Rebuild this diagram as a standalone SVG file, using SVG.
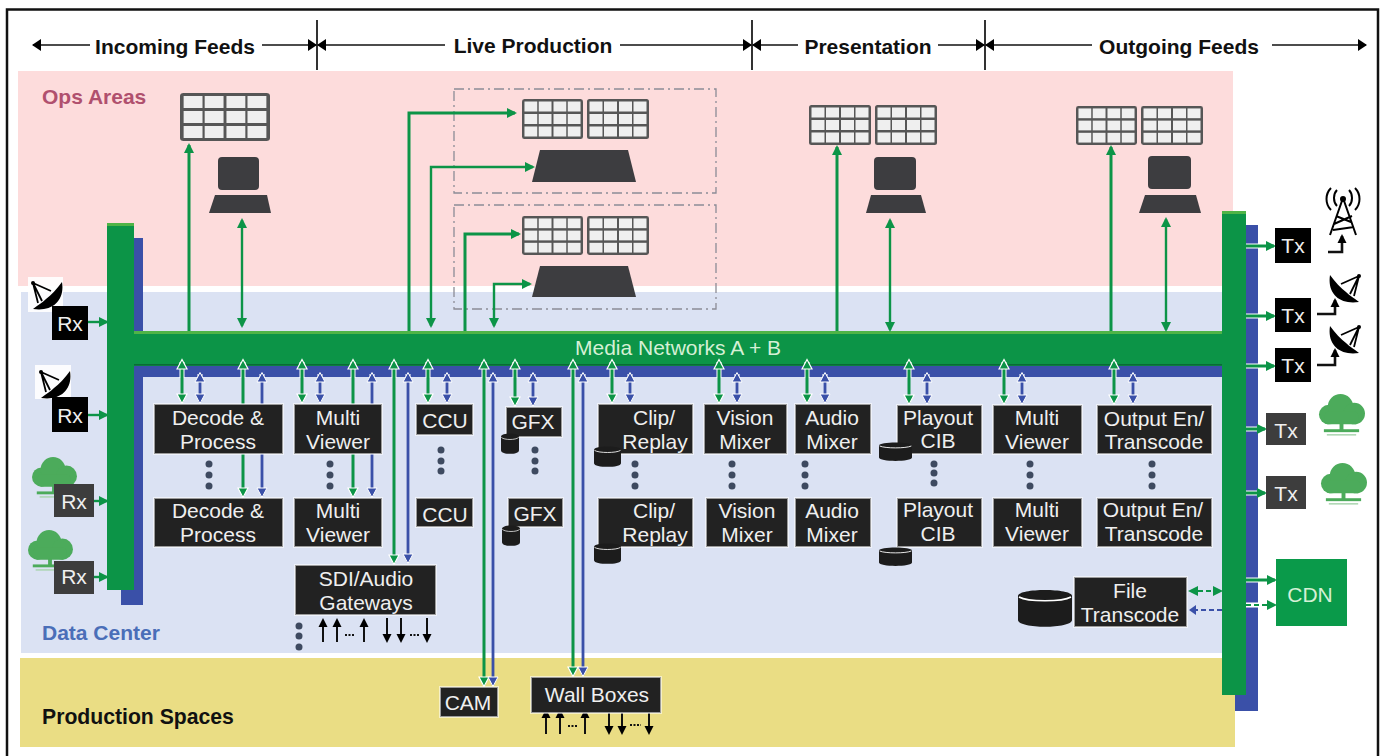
<svg xmlns="http://www.w3.org/2000/svg" width="1386" height="756" viewBox="0 0 1386 756">
<style>
text{font-family:"Liberation Sans",Arial,sans-serif}
.hd{font-size:21px;font-weight:bold;fill:#111;text-anchor:middle}
.n{font-size:21px;fill:#efefef;text-anchor:middle}
.box{fill:#222;stroke:#fff;stroke-opacity:.55;stroke-width:2}
.blk{fill:#000}
.gry{fill:#3d3d3d}
.hl{fill:none;stroke:#111;stroke-width:1.6;marker-end:url(#hk)}
.dv{stroke:#000;stroke-width:1.6}
.g3{fill:none;stroke:#0c9447;stroke-width:3;marker-end:url(#gh)}
.g2{fill:none;stroke:#0c9447;stroke-width:2.4;marker-start:url(#gh);marker-end:url(#gh)}
.g1{fill:none;stroke:#0c9447;stroke-width:2.4;marker-end:url(#gh)}
.gb{fill:none;stroke:#0c9447;stroke-width:3;marker-start:url(#ghb);marker-end:url(#ghb)}
.bb{fill:none;stroke:#3a50a8;stroke-width:2.8;marker-start:url(#bhb);marker-end:url(#bhb)}
.gd{fill:none;stroke:#0c9447;stroke-width:2;stroke-dasharray:5 3}
.bd{fill:none;stroke:#3a50a8;stroke-width:2;stroke-dasharray:5 3}
.halo{fill:none;stroke:#fff;stroke-width:5}
.io{fill:none;stroke:#111;stroke-width:2;marker-end:url(#kh)}
.dash{fill:none;stroke:#111;stroke-width:2;stroke-dasharray:2 1.5}
.el{fill:none;stroke:#111;stroke-width:2.6;marker-end:url(#kh)}
.dot{fill:#3e4a60}
.dsh{fill:none;stroke:#8c8c96;stroke-width:1.3;stroke-dasharray:10 4 2 4}
.tr{fill:#3d3d40}
</style>
<defs>
<marker id="hk" markerUnits="userSpaceOnUse" markerWidth="10" markerHeight="14" refX="8" refY="7" orient="auto-start-reverse"><path d="M0 1L9 7L0 13Z" fill="#000"/></marker>
<marker id="kh" markerUnits="userSpaceOnUse" markerWidth="10" markerHeight="10" refX="7" refY="5" orient="auto-start-reverse"><path d="M0 .5L9 5L0 9.5Z" fill="#000"/></marker>
<marker id="gh" markerUnits="userSpaceOnUse" markerWidth="12" markerHeight="12" refX="8" refY="6" orient="auto-start-reverse"><path d="M0 1L10 6L0 11Z" fill="#0c9447"/></marker>
<marker id="ghb" markerUnits="userSpaceOnUse" markerWidth="14" markerHeight="16" refX="9" refY="8" orient="auto-start-reverse"><path d="M1 3L10.5 8L1 13Z" fill="#0c9447" stroke="#fff" stroke-width="1.2"/></marker>
<marker id="bhb" markerUnits="userSpaceOnUse" markerWidth="14" markerHeight="16" refX="9" refY="8" orient="auto-start-reverse"><path d="M1 3L10.5 8L1 13Z" fill="#3a50a8" stroke="#fff" stroke-width="1"/></marker>
<symbol id="grid" viewBox="0 0 62 40" preserveAspectRatio="none">
<rect width="62" height="40" rx="2.5" fill="#565656"/>
<g fill="#efefef"><rect x="2.5" y="2.5" width="13" height="10"/><rect x="17" y="2.5" width="13" height="10"/><rect x="32" y="2.5" width="13" height="10"/><rect x="46.5" y="2.5" width="13" height="10"/>
<rect x="2.5" y="15" width="13" height="10"/><rect x="17" y="15" width="13" height="10"/><rect x="32" y="15" width="13" height="10"/><rect x="46.5" y="15" width="13" height="10"/>
<rect x="2.5" y="27.5" width="13" height="10"/><rect x="17" y="27.5" width="13" height="10"/><rect x="32" y="27.5" width="13" height="10"/><rect x="46.5" y="27.5" width="13" height="10"/></g>
</symbol>
<symbol id="cyl" viewBox="0 0 54 38" preserveAspectRatio="none">
<path d="M0 7C0 -1 54 -1 54 7V31C54 40 0 40 0 31Z" fill="#1c1c1c"/>
<path d="M1 8C10 13 44 13 53 8" fill="none" stroke="#fff" stroke-width="1.6"/>
</symbol>
<symbol id="dish" viewBox="0 0 36 36">
<path d="M34 5C37 24 24 35 5 32C10 28 14 26 18 22C23 18 29 12 34 5Z" fill="#000"/>
<path d="M5 6L23 14M5 6L14 24M5 6L10 26" fill="none" stroke="#000" stroke-width="1.8"/>
<circle cx="5" cy="6" r="2" fill="#000"/>
</symbol>
<symbol id="cloud" viewBox="0 0 50 46">
<g fill="#4cab5b"><circle cx="12" cy="21" r="10"/><circle cx="24" cy="13" r="13"/><circle cx="38" cy="20" r="11"/><rect x="8" y="18" width="34" height="13" rx="4"/><rect x="23" y="30" width="4" height="8"/><rect x="7" y="36" width="36" height="3"/></g>
<rect x="10" y="41" width="30" height="1.5" fill="#a8d4ae"/>
</symbol>
</defs>
<rect width="1386" height="756" fill="#fff"/>
<g id="bands">
<rect x="18" y="71" width="1215" height="215" fill="#fddcdc"/>
<rect x="21" y="292" width="1205" height="361" fill="#dbe2f3"/>
<rect x="20" y="658" width="1215" height="89" fill="#eadd84"/>
</g>
<path id="frame" d="M7 756V9.5H1378V756" fill="none" stroke="#111" stroke-width="2.5"/>
<g id="headers">
<path class="dv" d="M317 20V70M752 20V70M985 20V70"/>
<path class="hl" d="M90 45H33"/><path class="hl" d="M262 45H316"/>
<path class="hl" d="M445 45H318"/><path class="hl" d="M620 45H751"/>
<path class="hl" d="M798 45H753"/><path class="hl" d="M938 45H984"/>
<path class="hl" d="M1092 45H986"/><path class="hl" d="M1272 45H1366"/>
<text class="hd" x="175" y="54">Incoming Feeds</text>
<text class="hd" x="533" y="53">Live Production</text>
<text class="hd" x="868" y="54">Presentation</text>
<text class="hd" x="1179" y="54">Outgoing Feeds</text>
</g>
<text x="42" y="104" font-size="21" font-weight="bold" fill="#b0506e">Ops Areas</text>
<text x="42" y="640" font-size="21" font-weight="bold" fill="#4a6eb8">Data Center</text>
<text x="42" y="724" font-size="21.2" font-weight="bold" fill="#111">Production Spaces</text>
<g id="live-boxes"><rect class="dsh" x="454" y="89" width="262" height="104"/><rect class="dsh" x="454" y="205" width="262" height="104"/></g>
<g id="ops-equipment">
<use href="#grid" x="180" y="93" width="90" height="48"/>
<g class="tr"><rect x="218" y="157" width="41" height="33" rx="4"/><path d="M215 195H267L271 213H209Z"/></g>
<use href="#grid" x="522" y="99" width="61" height="40"/><use href="#grid" x="587" y="99" width="62" height="40"/>
<path class="tr" d="M540 150H628L636 182H532Z"/>
<use href="#grid" x="522" y="216" width="61" height="39"/><use href="#grid" x="587" y="216" width="62" height="39"/>
<path class="tr" d="M540 266H628L636 297H532Z"/>
<use href="#grid" x="809" y="105" width="62" height="40"/><use href="#grid" x="875" y="105" width="62" height="40"/>
<g class="tr"><rect x="874" y="157" width="42" height="33" rx="4"/><path d="M871 195H921L926 213H866Z"/></g>
<use href="#grid" x="1076" y="106" width="61" height="39"/><use href="#grid" x="1141" y="106" width="62" height="39"/>
<g class="tr"><rect x="1148" y="156" width="43" height="33" rx="4"/><path d="M1145 195H1196L1201 213H1139Z"/></g>
</g>
<g id="buses">
<rect x="121" y="238" width="22" height="367" fill="#3a50a8"/>
<rect x="1235" y="225" width="23" height="486" fill="#3a50a8"/>
<rect x="133" y="365" width="1090" height="12" fill="#3a50a8"/>
<rect x="133" y="331" width="1090" height="35" fill="#0c9447"/>
<rect x="133" y="331" width="1090" height="3" fill="#4fb447"/>
<rect x="133" y="364" width="1090" height="1.5" fill="#0a6a36"/>
<rect x="107" y="223" width="27" height="367" fill="#0c9447"/>
<rect x="107" y="223" width="27" height="3" fill="#4fb447"/>
<rect x="1222" y="211" width="24" height="484" fill="#0c9447"/>
<rect x="1222" y="211" width="24" height="3" fill="#4fb447"/>
<text x="678" y="355" font-size="21" fill="#d5f0d5" text-anchor="middle">Media Networks A + B</text>
</g>
<g id="connectors">
<path class="halo" d="M182 362V378M200 374V380M243 362V378M262 374V380M302 362V378M320 374V380M353 362V378M372 374V380M394 362V378M408 374V380M428 362V378M447 374V380M484 362V378M493 374V380M515 362V378M533 374V380M573 362V378M583 374V380M612 362V378M630 374V380M719 362V378M737 374V380M807 362V378M825 374V380M909 362V378M927 374V380M1004 362V378M1022 374V380M1114 362V378M1133 374V380M1246 246H1258M1246 316H1258M1246 366H1258M1246 429H1258M1246 493H1258M1246 580H1258M1246 605H1258"/>
<path class="g3" d="M189 331V145"/><path class="g2" d="M242 326V220"/>
<path class="g3" d="M409 331V113H515"/><path class="g2" d="M431 326V167H533"/>
<path class="g3" d="M465 331V234H519"/><path class="g2" d="M494 326V284H530"/>
<path class="g3" d="M837 331V147"/><path class="g2" d="M890 330V220"/>
<path class="g3" d="M1111 331V147"/><path class="g2" d="M1166 330V219"/>
<path class="gb" d="M182 361V402"/><path class="bb" d="M200 374V402"/>
<path class="gb" d="M243 361V496"/><path class="bb" d="M262 374V496"/>
<path class="gb" d="M302 361V402"/><path class="bb" d="M320 374V402"/>
<path class="gb" d="M353 361V496"/><path class="bb" d="M372 374V496"/>
<path class="gb" d="M394 361V563"/><path class="bb" d="M408 374V562"/>
<path class="gb" d="M428 361V402"/><path class="bb" d="M447 374V402"/>
<path class="gb" d="M484 361V685"/><path class="bb" d="M493 374V685"/>
<path class="gb" d="M515 361V405"/><path class="bb" d="M533 374V405"/>
<path class="gb" d="M573 361V675"/><path class="bb" d="M583 374V675"/>
<path class="gb" d="M612 361V402"/><path class="bb" d="M630 374V402"/>
<path class="gb" d="M719 361V402"/><path class="bb" d="M737 374V402"/>
<path class="gb" d="M807 361V402"/><path class="bb" d="M825 374V402"/>
<path class="gb" d="M909 361V403"/><path class="bb" d="M927 374V403"/>
<path class="gb" d="M1004 361V403"/><path class="bb" d="M1022 374V403"/>
<path class="gb" d="M1114 361V403"/><path class="bb" d="M1133 374V403"/>
<path class="g1" d="M88 322H107"/><path class="g1" d="M88 415H107"/><path class="g1" d="M94 501H107"/><path class="g1" d="M94 577H107"/>
<path class="g3" d="M1246 246H1274"/><path class="g3" d="M1246 316H1274"/><path class="g3" d="M1246 366H1274"/>
<path class="g3" d="M1246 429H1265"/><path class="g3" d="M1246 493H1265"/><path class="g3" d="M1246 580H1275"/>
<path class="gd" d="M1246 605H1275" style="marker-end:url(#gh)"/>
<path class="gd" d="M1190 591H1221" style="marker-start:url(#gh);marker-end:url(#gh)"/>
<path class="bd" d="M1222 610H1190"/><path d="M1196 605L1189 610L1196 615Z" fill="#3a50a8"/>
<path class="el" d="M1328 252H1342V236"/><path class="el" d="M1317 314H1335V300"/><path class="el" d="M1317 365H1335V350"/>
<path class="io" d="M323 642V620"/><path class="io" d="M337 642V620"/><path class="io" d="M364 642V620"/>
<path class="io" d="M387 618V641"/><path class="io" d="M401 618V641"/><path class="io" d="M427 618V641"/>
<path class="dash" d="M345 635H355M410 635H420"/>
<path class="io" d="M546 734V711"/><path class="io" d="M560 734V711"/><path class="io" d="M585 734V711"/>
<path class="io" d="M609 711V733"/><path class="io" d="M622 711V733"/><path class="io" d="M649 711V733"/>
<path class="dash" d="M568 726H578M630 725H641"/>
</g>
<g id="icons">
<rect x="28" y="277" width="35" height="35" fill="#fff" opacity=".9"/>
<use href="#dish" x="28" y="277" width="36" height="36"/>
<rect x="35" y="365" width="36" height="34" fill="#fff" opacity=".9"/>
<use href="#dish" x="36" y="366" width="36" height="36"/>
<use href="#cloud" x="30" y="457" width="48" height="44"/>
<use href="#cloud" x="26" y="530" width="48" height="44"/>
<use href="#cloud" x="1317" y="394" width="49" height="45"/>
<use href="#cloud" x="1319" y="463" width="49" height="45"/>
<use href="#dish" transform="translate(1364 270) scale(-1 1)" width="36" height="36"/>
<use href="#dish" transform="translate(1364 321) scale(-1 1)" width="36" height="36"/>
<g id="tower" fill="none" stroke="#000" stroke-width="2"><path d="M1343 198L1330 235M1343 198L1356 235M1336 216L1351 222M1334 224L1352 216M1333 230L1354 227"/><circle cx="1343" cy="199" r="2" fill="#000"/><path d="M1337 190C1333 194 1333 202 1337 206M1349 190C1353 194 1353 202 1349 206M1331 188C1325 194 1325 204 1331 210M1355 188C1361 194 1361 204 1355 210"/></g>
</g>
<g id="dots" class="dot">
<circle cx="209" cy="464" r="3.5"/><circle cx="209" cy="475" r="3.5"/><circle cx="209" cy="486" r="3.5"/>
<circle cx="330" cy="464" r="3.5"/><circle cx="330" cy="475" r="3.5"/><circle cx="330" cy="486" r="3.5"/>
<circle cx="441" cy="450" r="3.5"/><circle cx="441" cy="461" r="3.5"/><circle cx="441" cy="471" r="3.5"/>
<circle cx="535" cy="450" r="3.5"/><circle cx="535" cy="461" r="3.5"/><circle cx="535" cy="471" r="3.5"/>
<circle cx="635" cy="464" r="3.5"/><circle cx="635" cy="475" r="3.5"/><circle cx="635" cy="486" r="3.5"/>
<circle cx="732" cy="464" r="3.5"/><circle cx="732" cy="475" r="3.5"/><circle cx="732" cy="486" r="3.5"/>
<circle cx="805" cy="464" r="3.5"/><circle cx="805" cy="475" r="3.5"/><circle cx="805" cy="486" r="3.5"/>
<circle cx="934" cy="464" r="3.5"/><circle cx="934" cy="473" r="3.5"/><circle cx="934" cy="483" r="3.5"/>
<circle cx="1030" cy="464" r="3.5"/><circle cx="1030" cy="475" r="3.5"/><circle cx="1030" cy="486" r="3.5"/>
<circle cx="1152" cy="464" r="3.5"/><circle cx="1152" cy="475" r="3.5"/><circle cx="1152" cy="486" r="3.5"/>
<circle cx="299" cy="626" r="3.5"/><circle cx="299" cy="636" r="3.5"/><circle cx="299" cy="647" r="3.5"/>
</g>
<g id="rx1"><rect class="blk" x="52" y="306" width="36" height="34"/><text class="n" x="70" y="331">Rx</text></g>
<g id="rx2"><rect class="blk" x="52" y="397" width="36" height="35"/><text class="n" x="70" y="423">Rx</text></g>
<g id="rx3"><rect class="gry" x="54" y="484" width="40" height="33"/><text class="n" x="74" y="509">Rx</text></g>
<g id="rx4"><rect class="gry" x="54" y="561" width="40" height="33"/><text class="n" x="74" y="584">Rx</text></g>
<g id="decode1"><rect class="box" x="154" y="404" width="129" height="50"/><text class="n" x="218" y="425">Decode &amp;</text><text class="n" x="218" y="449">Process</text></g>
<g id="decode2"><rect class="box" x="154" y="498" width="129" height="49"/><text class="n" x="218" y="518">Decode &amp;</text><text class="n" x="218" y="542">Process</text></g>
<g id="mv1"><rect class="box" x="294" y="404" width="88" height="50"/><text class="n" x="338" y="425">Multi</text><text class="n" x="338" y="449">Viewer</text></g>
<g id="mv2"><rect class="box" x="294" y="498" width="88" height="49"/><text class="n" x="338" y="518">Multi</text><text class="n" x="338" y="542">Viewer</text></g>
<g id="ccu1"><rect class="box" x="416" y="404" width="57" height="31"/><text class="n" x="445" y="428">CCU</text></g>
<g id="ccu2"><rect class="box" x="416" y="498" width="57" height="29"/><text class="n" x="445" y="522">CCU</text></g>
<g id="sdi"><rect class="box" x="295" y="565" width="141" height="50"/><text class="n" x="366" y="586">SDI/Audio</text><text class="n" x="366" y="610">Gateways</text></g>
<g id="gfx1"><rect class="box" x="506" y="407" width="56" height="30"/><text class="n" x="533" y="429">GFX</text><use href="#cyl" x="501" y="433" width="18" height="21"/></g>
<g id="gfx2"><rect class="box" x="508" y="498" width="55" height="29"/><text class="n" x="535" y="521">GFX</text><use href="#cyl" x="502" y="525" width="18" height="21"/></g>
<g id="clip1"><rect class="box" x="598" y="404" width="95" height="50"/><text class="n" x="654" y="425">Clip/</text><text class="n" x="655" y="449">Replay</text><use href="#cyl" x="594" y="446" width="27" height="21"/></g>
<g id="clip2"><rect class="box" x="598" y="498" width="95" height="49"/><text class="n" x="654" y="518">Clip/</text><text class="n" x="655" y="542">Replay</text><use href="#cyl" x="594" y="543" width="27" height="21"/></g>
<g id="vm1"><rect class="box" x="704" y="404" width="83" height="50"/><text class="n" x="745" y="425">Vision</text><text class="n" x="745" y="449">Mixer</text></g>
<g id="vm2"><rect class="box" x="706" y="498" width="82" height="49"/><text class="n" x="747" y="518">Vision</text><text class="n" x="747" y="542">Mixer</text></g>
<g id="am1"><rect class="box" x="795" y="404" width="76" height="50"/><text class="n" x="832" y="425">Audio</text><text class="n" x="832" y="449">Mixer</text></g>
<g id="am2"><rect class="box" x="795" y="498" width="76" height="49"/><text class="n" x="832" y="518">Audio</text><text class="n" x="832" y="542">Mixer</text></g>
<g id="play1"><rect class="box" x="897" y="405" width="85" height="49"/><text class="n" x="938" y="425">Playout</text><text class="n" x="938" y="448">CIB</text><use href="#cyl" x="879" y="442" width="33" height="19"/></g>
<g id="play2"><rect class="box" x="897" y="498" width="85" height="49"/><text class="n" x="938" y="517">Playout</text><text class="n" x="938" y="541">CIB</text><use href="#cyl" x="879" y="547" width="33" height="19"/></g>
<g id="mv3"><rect class="box" x="993" y="405" width="89" height="49"/><text class="n" x="1037" y="425">Multi</text><text class="n" x="1037" y="449">Viewer</text></g>
<g id="mv4"><rect class="box" x="993" y="498" width="89" height="49"/><text class="n" x="1037" y="517">Multi</text><text class="n" x="1037" y="541">Viewer</text></g>
<g id="out1"><rect class="box" x="1097" y="405" width="115" height="49"/><text class="n" x="1154" y="426">Output En/</text><text class="n" x="1154" y="449">Transcode</text></g>
<g id="out2"><rect class="box" x="1097" y="498" width="115" height="49"/><text class="n" x="1153" y="517">Output En/</text><text class="n" x="1154" y="541">Transcode</text></g>
<g id="file"><rect class="box" x="1074" y="577" width="113" height="50"/><text class="n" x="1130" y="598">File</text><text class="n" x="1130" y="622">Transcode</text><use href="#cyl" x="1018" y="589" width="54" height="38"/></g>
<g id="cam"><rect class="box" x="440" y="687" width="58" height="30"/><text class="n" x="468" y="710">CAM</text></g>
<g id="wall"><rect class="box" x="531" y="677" width="130" height="36"/><text class="n" x="597" y="702">Wall Boxes</text></g>
<g id="tx1"><rect class="blk" x="1275" y="228" width="36" height="35"/><text class="n" x="1293" y="253">Tx</text></g>
<g id="tx2"><rect class="blk" x="1275" y="298" width="36" height="34"/><text class="n" x="1293" y="323">Tx</text></g>
<g id="tx3"><rect class="blk" x="1275" y="348" width="36" height="34"/><text class="n" x="1293" y="373">Tx</text></g>
<g id="tx4"><rect class="gry" x="1266" y="413" width="40" height="32"/><text class="n" x="1286" y="438">Tx</text></g>
<g id="tx5"><rect class="gry" x="1266" y="476" width="40" height="33"/><text class="n" x="1286" y="501">Tx</text></g>
<g id="cdn"><rect x="1276" y="559" width="71" height="67" fill="#0a9a4a"/><text x="1310" y="602" font-size="21" fill="#d5f0d5" text-anchor="middle">CDN</text></g>
</svg>
